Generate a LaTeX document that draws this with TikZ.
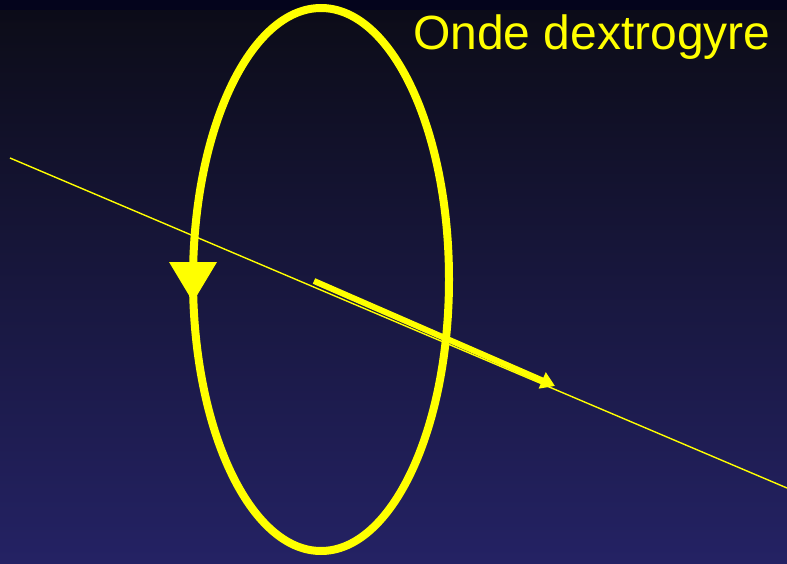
\documentclass[tikz,border=0pt]{standalone}
\usepackage{fontspec}
\setmainfont{Liberation Sans}
\usetikzlibrary{arrows.meta}
\definecolor{bgtop}{RGB}{12,12,24}
\definecolor{bgbot}{RGB}{36,34,100}
\definecolor{bgband}{RGB}{4,4,28}
\definecolor{ylw}{RGB}{255,255,0}
\tikzset{
  ring/.style={draw=ylw, line width=8pt},
  axisline/.style={draw=ylw, line width=1.4pt},
  proparrow/.style={draw=ylw, line width=6pt, -{Triangle[length=14pt,width=17pt]}},
  title/.style={text=ylw, font=\fontsize{48}{58}\selectfont, inner sep=0pt, anchor=base west}
}
\begin{document}
\begin{tikzpicture}[x=1pt,y=-1pt]
\useasboundingbox (0,0) rectangle (787,564);
\shade[top color=bgtop, bottom color=bgbot] (0,10) rectangle (787,564);
\fill[bgband] (0,0) rectangle (787,10);
\coordinate (a1) at (10,158);
\coordinate (a2) at (787,488);
\draw[axisline] (a1) -- (a2);
\draw[ring] (321,279.5) ellipse [x radius=128, y radius=271.5];
\fill[ylw] (169,262) coordinate (t1) -- (217,262) coordinate (t2) -- (193,302) coordinate (t3) -- cycle;
\coordinate (p1) at (314,281);
\coordinate (p2) at (555,386);
\draw[proparrow] (p1) -- (p2);
\node[title] (lbl) at (413,50) {Onde dextrogyre};
\end{tikzpicture}
\end{document}
